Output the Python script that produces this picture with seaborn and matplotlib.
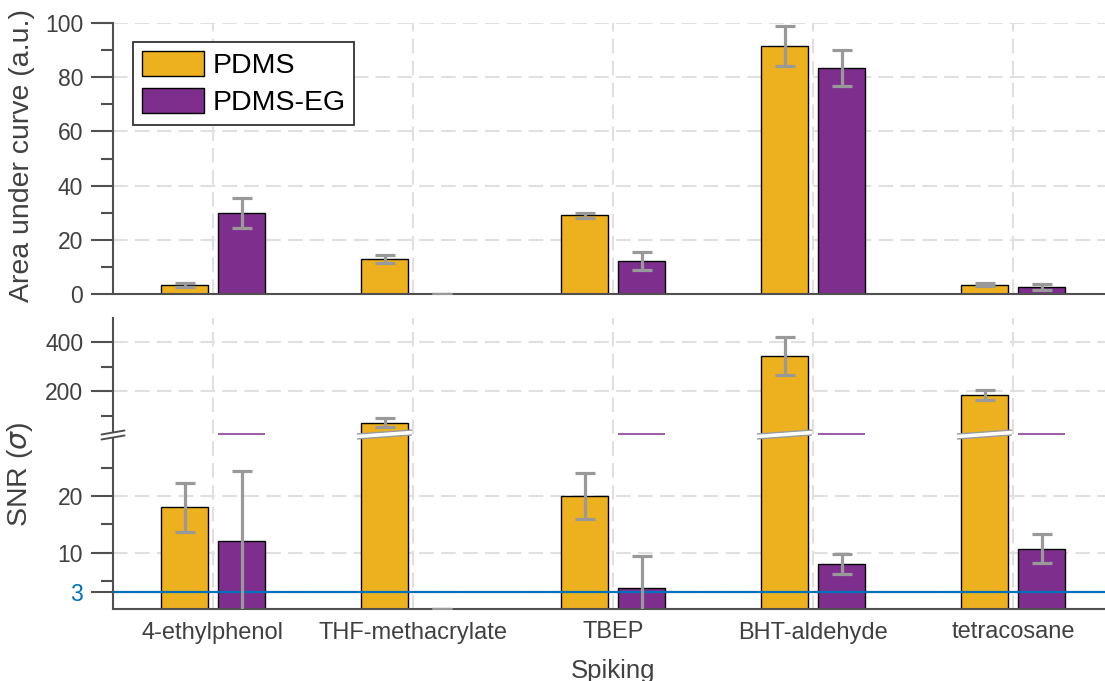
import numpy as np
import pandas as pd
import seaborn as sns
import matplotlib.pyplot as plt
from matplotlib.patches import Polygon, Patch
from matplotlib.lines import Line2D
from matplotlib.transforms import IdentityTransform

# Data
compounds = ['4-ethylphenol', 'THF-methacrylate', 'TBEP', 'BHT-aldehyde', 'tetracosane']
coatings = ['PDMS', 'PDMS-EG']

auc_pdms = [3.3, 12.8, 29.0, 91.5, 3.5]
auc_pdms_err = [0.8, 1.5, 1.0, 7.3, 0.7]
auc_eg = [30.0, 0.0, 12.2, 83.4, 2.6]
auc_eg_err = [5.5, 0.0, 3.2, 6.6, 1.1]

snr_pdms = [18.0, 71.5, 20.0, 344.0, 185.0]
snr_pdms_err = [4.4, 17.5, 4.1, 77.0, 20.0]
snr_eg = [12.0, 0.0, 3.75, 8.0, 10.7]
snr_eg_err = [12.5, 0.0, 5.65, 1.75, 2.6]

snr_threshold = 3

# Styling
yellow = '#EDB120'
purple = '#7E2F8E'
blue = '#0072BD'
err_gray = '#999999'
axis_gray = '#505050'
text_gray = '#404040'
grid_gray = '#e0e0e0'
palette = {'PDMS': yellow, 'PDMS-EG': purple}

sns.set_theme(style='white')
plt.rcParams['font.family'] = ['Liberation Sans', 'DejaVu Sans']
plt.rcParams['mathtext.fontset'] = 'dejavusans'

W, H = 1105, 681
fig = plt.figure(figsize=(W / 100, H / 100), dpi=100)


def rect(left, top, right, bottom):
    return [left / W, 1 - bottom / H, (right - left) / W, (bottom - top) / H]


ax_auc = fig.add_axes(rect(113, 23, 1113, 294))
ax_hi = fig.add_axes(rect(113, 317.6, 1113, 434))
ax_lo = fig.add_axes(rect(113, 434, 1113, 609))
ax_hi.patch.set_visible(False)
ax_lo.patch.set_visible(False)

lo_lim = (0, 31)
hi_lim = (25, 500)


def make_df(pdms, eg):
    return pd.DataFrame({
        'compound': compounds * 2,
        'coating': ['PDMS'] * len(compounds) + ['PDMS-EG'] * len(compounds),
        'value': list(pdms) + list(eg),
    })


def draw_bars(ax, pdms, eg):
    sns.barplot(data=make_df(pdms, eg), x='compound', y='value', hue='coating',
                order=compounds, hue_order=coatings, palette=palette, saturation=1,
                width=0.57, gap=0.19, edgecolor='black', linewidth=1.0,
                errorbar=None, legend=False, ax=ax, zorder=2)
    centers = []
    for cont in ax.containers:
        centers.append([b.get_x() + b.get_width() / 2 for b in cont])
    return centers, ax.containers[0][0].get_width()


def draw_err(ax, xs, vals, errs, mask):
    xs = np.asarray(xs)[mask]
    if len(xs) == 0:
        return
    ax.errorbar(xs, np.asarray(vals)[mask], yerr=np.asarray(errs)[mask], fmt='none',
                ecolor=err_gray, elinewidth=2.3, capsize=7, capthick=2.3, zorder=4)


def style_axis(ax):
    ax.set_xlim(-0.5, 4.5)
    ax.set_xlabel('')
    ax.set_ylabel('')
    ax.set_axisbelow(True)
    ax.grid(True, which='major', color=grid_gray, lw=1.5, ls=(0, (7, 3.5)))
    for s in ax.spines.values():
        s.set_color(axis_gray)
        s.set_linewidth(1.5)
    ax.spines['top'].set_visible(False)
    ax.spines['right'].set_visible(False)
    ax.tick_params(axis='y', which='major', length=15.5, width=1.5, color=axis_gray,
                   labelsize=16.5, labelcolor=text_gray, pad=6, left=True)
    ax.tick_params(axis='y', which='minor', length=8.5, width=1.5, color=axis_gray, left=True)
    ax.tick_params(axis='x', length=0, labelsize=17, labelcolor=text_gray)


# ---- top panel: area under curve ----
c_auc, bw = draw_bars(ax_auc, auc_pdms, auc_eg)
all_ok = np.ones(len(compounds), bool)
draw_err(ax_auc, c_auc[0], auc_pdms, auc_pdms_err, all_ok)
draw_err(ax_auc, c_auc[1], auc_eg, auc_eg_err, all_ok)
style_axis(ax_auc)
ax_auc.set_ylim(0, 100)
ax_auc.set_yticks([0, 20, 40, 60, 80, 100])
ax_auc.set_yticks([10, 30, 50, 70, 90], minor=True)
ax_auc.set_xticklabels([])
ax_auc.set_ylabel('Area under curve (a.u.)', fontsize=20.5, color=text_gray)
ax_auc.yaxis.set_label_coords(-0.078, 0.51)

handles = [Patch(facecolor=palette[c], edgecolor='black', linewidth=1.0) for c in coatings]
leg = ax_auc.legend(handles, coatings, loc='upper left', bbox_to_anchor=(0.02, 0.93),
                    borderaxespad=0, frameon=True, fancybox=False, fontsize=20.5,
                    handlelength=2.2, handleheight=1.0, handletextpad=0.3,
                    labelspacing=0.3, borderpad=0.3)
leg.get_frame().set_edgecolor('#333333')
leg.get_frame().set_linewidth(1.3)
leg.get_frame().set_alpha(1)
for t in leg.get_texts():
    t.set_color('black')

# ---- bottom panel: SNR with broken axis ----
snr_p = np.asarray(snr_pdms)
snr_e = np.asarray(snr_eg)
for ax, lim in ((ax_lo, lo_lim), (ax_hi, hi_lim)):
    c_snr, bw = draw_bars(ax, snr_pdms, snr_eg)
    in_lo = lim is lo_lim
    draw_err(ax, c_snr[0], snr_pdms, snr_pdms_err, (snr_p <= lo_lim[1]) == in_lo)
    draw_err(ax, c_snr[1], snr_eg, snr_eg_err, (snr_e <= lo_lim[1]) == in_lo)
    style_axis(ax)
    ax.set_ylim(*lim)

ax_hi.spines['bottom'].set_visible(False)
ax_hi.set_yticks([200, 400])
ax_hi.set_yticks([100, 300], minor=True)
ax_hi.set_xticklabels([])

ax_lo.set_yticks([snr_threshold, 10, 20])
ax_lo.set_yticks([5, 15, 25], minor=True)
ax_lo.get_yticklabels()[0].set_color(blue)
ax_lo.yaxis.get_major_ticks()[0].tick1line.set_color(blue)
ax_lo.axhline(snr_threshold, color=blue, lw=1.6, zorder=3)
ax_lo.set_xticks(range(len(compounds)))
ax_lo.set_xticklabels(compounds)
ax_lo.tick_params(axis='x', pad=9)
ax_lo.set_xlabel('Spiking', fontsize=18.5, color=text_gray, labelpad=11)
ax_lo.set_ylabel(r'SNR ($\sigma$)', fontsize=20.5, color=text_gray)
ax_lo.yaxis.set_label_coords(-0.078, 0.77)

# thin purple edge left at the break by the PDMS-EG bars
for x, v in zip(c_snr[1], snr_eg):
    if 0 < v < hi_lim[0]:
        ax_hi.hlines(hi_lim[0], x - bw / 2, x + bw / 2, color=purple, lw=1.1,
                     clip_on=False, zorder=5)

# ---- break marks ----
fig.canvas.draw()
yb = ax_lo.transAxes.transform((0, 1))[1]
xs_sp = ax_lo.transAxes.transform((0, 0))[0]


def slanted_band(x0, x1, yc, slope, half, edge_color, lw):
    xm = (x0 + x1) / 2
    ya0 = yc + slope * (x0 - xm)
    ya1 = yc + slope * (x1 - xm)
    poly = Polygon([(x0, ya0 - half), (x1, ya1 - half), (x1, ya1 + half), (x0, ya0 + half)],
                   closed=True, facecolor='white', edgecolor='none',
                   transform=IdentityTransform(), zorder=10)
    fig.add_artist(poly)
    for s in (-half, half):
        fig.add_artist(Line2D([x0, x1], [ya0 + s, ya1 + s], color=edge_color, lw=lw,
                              transform=IdentityTransform(), zorder=11))


slanted_band(xs_sp - 11.5, xs_sp + 11.5, yb - 1, 4 / 23, 2.5, axis_gray, 1.4)
for x, v in zip(c_snr[0], snr_pdms):
    if v > lo_lim[1]:
        xl = ax_lo.transData.transform((x - bw / 2, 0))[0]
        xr = ax_lo.transData.transform((x + bw / 2, 0))[0]
        slanted_band(xl - 4, xr + 4, yb - 0.5, 4 / 55, 2.5, '#9a9a9a', 1.0)

fig.savefig('out.png', dpi=100)
